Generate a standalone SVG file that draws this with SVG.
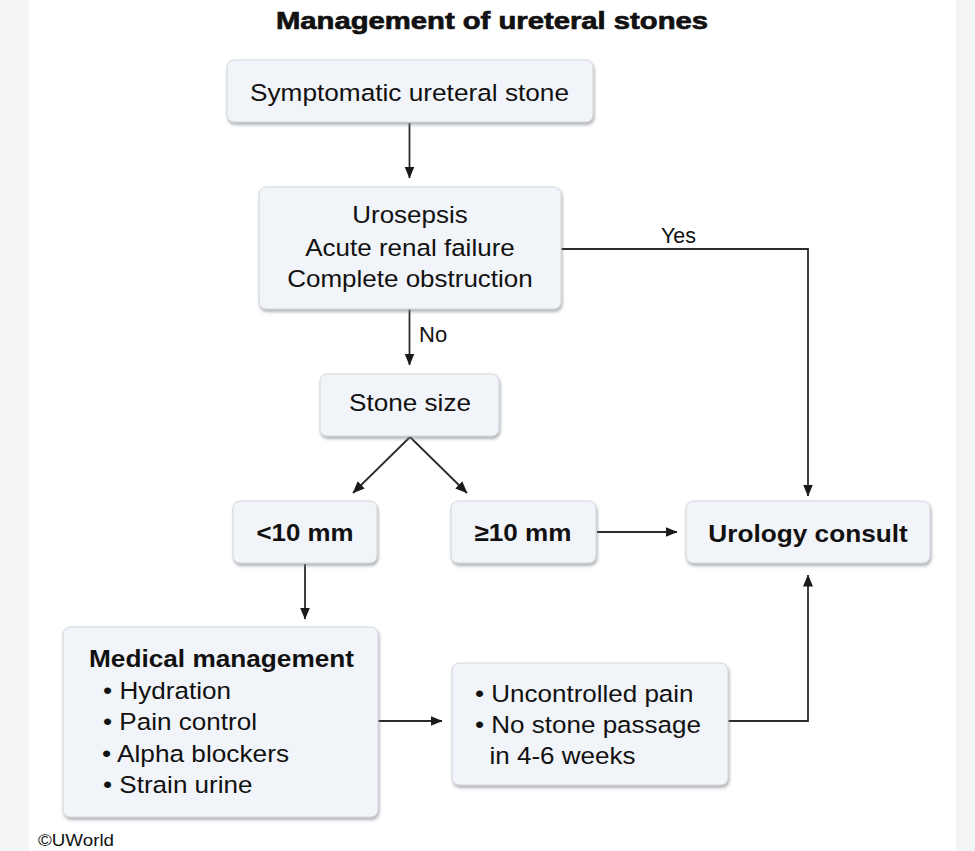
<svg xmlns="http://www.w3.org/2000/svg" width="975" height="851" viewBox="0 0 975 851">
<defs>
<style>
text{font-family:"Liberation Sans",Arial,sans-serif;fill:#111;}
.t{font-size:24.5px;}
.b{font-size:24.5px;font-weight:bold;}
.c{text-anchor:middle;}
.box{fill:#f1f4f8;stroke:#d3d7dc;stroke-width:1;filter:url(#sh);}
.ln{fill:none;stroke:#2b2b2b;stroke-width:1.8;}
</style>
<filter id="sh" x="-10%" y="-10%" width="125%" height="130%">
<feDropShadow dx="1" dy="2.5" stdDeviation="1.4" flood-color="#7a7f86" flood-opacity="0.6"/>
</filter>
<marker id="ah" viewBox="0 0 12 11" refX="11.5" refY="5.5" markerWidth="12" markerHeight="11" markerUnits="userSpaceOnUse" orient="auto">
<path d="M0,0.5 L12,5.5 L0,10.5 Z" fill="#1a1a1a"/>
</marker>
</defs>
<rect x="0" y="0" width="975" height="851" fill="#ffffff"/>
<rect x="0" y="0" width="29" height="851" fill="#f3f4f6"/>
<rect x="956" y="0" width="19" height="851" fill="#f3f4f6"/>

<text x="492" y="29" class="c" style="font-size:24px;font-weight:bold;stroke:#111;stroke-width:0.7" textLength="432" lengthAdjust="spacingAndGlyphs">Management of ureteral stones</text>

<g id="connectors">
<line class="ln" x1="409.5" y1="123" x2="409.5" y2="178" marker-end="url(#ah)"/>
<path class="ln" d="M561,249 H808 V496" marker-end="url(#ah)"/>
<line class="ln" x1="409.5" y1="309" x2="409.5" y2="365" marker-end="url(#ah)"/>
<line class="ln" x1="410" y1="437" x2="353" y2="493" marker-end="url(#ah)"/>
<line class="ln" x1="410" y1="437" x2="467" y2="493" marker-end="url(#ah)"/>
<line class="ln" x1="597" y1="532" x2="677" y2="532" marker-end="url(#ah)"/>
<line class="ln" x1="305" y1="564" x2="305" y2="619" marker-end="url(#ah)"/>
<line class="ln" x1="378" y1="721" x2="442" y2="721" marker-end="url(#ah)"/>
<path class="ln" d="M728,721 H808 V575" marker-end="url(#ah)"/>
<text x="661" y="243" style="font-size:21.5px">Yes</text>
<text x="419" y="342" style="font-size:22px">No</text>
</g>

<g id="n-symptomatic">
<rect class="box" x="227" y="60" width="366" height="62" rx="7"/>
<text x="409.5" y="101" class="t c" textLength="319" lengthAdjust="spacingAndGlyphs">Symptomatic ureteral stone</text>
</g>

<g id="n-conditions">
<rect class="box" x="259" y="187" width="302" height="122" rx="7"/>
<text x="410" y="223" class="t c" textLength="115.5" lengthAdjust="spacingAndGlyphs">Urosepsis</text>
<text x="410" y="255.5" class="t c" textLength="209.5" lengthAdjust="spacingAndGlyphs">Acute renal failure</text>
<text x="410" y="287" class="t c" textLength="245.5" lengthAdjust="spacingAndGlyphs">Complete obstruction</text>
</g>

<g id="n-stonesize">
<rect class="box" x="320" y="374" width="179" height="62" rx="7"/>
<text x="410" y="411" class="t c" textLength="122" lengthAdjust="spacingAndGlyphs">Stone size</text>
</g>

<g id="n-lt10">
<rect class="box" x="233" y="501" width="144" height="62" rx="7"/>
<text x="305" y="541" class="b c" textLength="97" lengthAdjust="spacingAndGlyphs">&lt;10 mm</text>
</g>

<g id="n-ge10">
<rect class="box" x="451" y="501" width="145" height="62" rx="7"/>
<text x="523" y="541" class="b c" textLength="97" lengthAdjust="spacingAndGlyphs">≥10 mm</text>
</g>

<g id="n-urology">
<rect class="box" x="686" y="501" width="244" height="62" rx="7"/>
<text x="808" y="542" class="b c" textLength="199.5" lengthAdjust="spacingAndGlyphs">Urology consult</text>
</g>

<g id="n-medical">
<rect class="box" x="63" y="627" width="315" height="190" rx="7"/>
<text x="89" y="667" class="b" textLength="265" lengthAdjust="spacingAndGlyphs">Medical management</text>
<text x="103" y="699" class="t" textLength="128" lengthAdjust="spacingAndGlyphs">• Hydration</text>
<text x="103" y="729.5" class="t" textLength="154" lengthAdjust="spacingAndGlyphs">• Pain control</text>
<text x="102" y="761.5" class="t" textLength="187" lengthAdjust="spacingAndGlyphs">• Alpha blockers</text>
<text x="103" y="793" class="t" textLength="149.5" lengthAdjust="spacingAndGlyphs">• Strain urine</text>
</g>

<g id="n-uncontrolled">
<rect class="box" x="452" y="663" width="276" height="122" rx="7"/>
<text x="475" y="701.5" class="t" textLength="218.5" lengthAdjust="spacingAndGlyphs">• Uncontrolled pain</text>
<text x="475" y="733" class="t" textLength="226" lengthAdjust="spacingAndGlyphs">• No stone passage</text>
<text x="489.5" y="763.5" class="t" textLength="146" lengthAdjust="spacingAndGlyphs">in 4-6 weeks</text>
</g>

<text x="38" y="846" style="font-size:16px" textLength="76" lengthAdjust="spacingAndGlyphs">©UWorld</text>
</svg>
